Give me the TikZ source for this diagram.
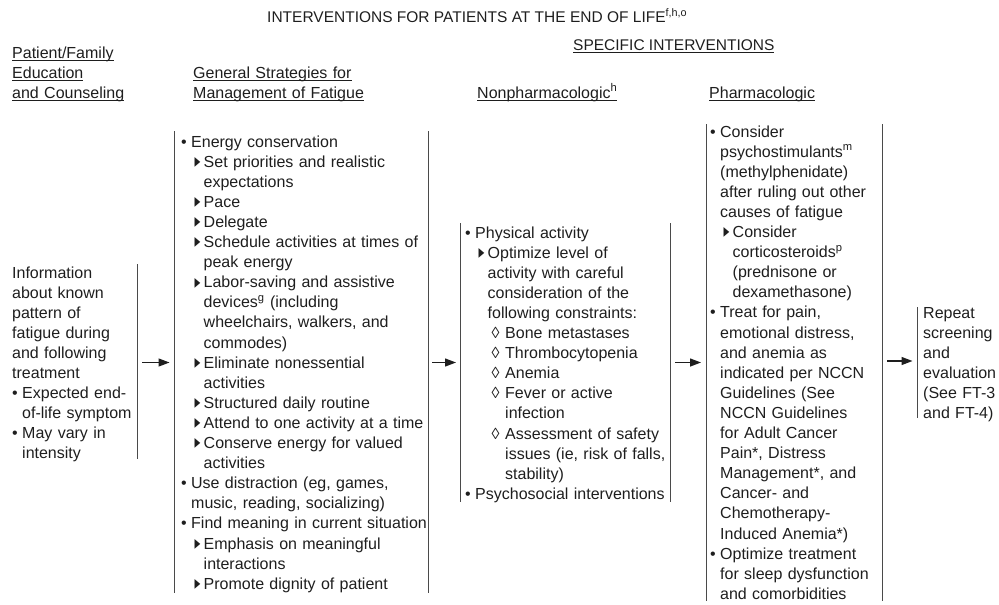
\documentclass[tikz,border=0pt]{standalone}
\usepackage{fontspec}
\usepackage{graphicx}
\setmainfont{Liberation Sans}
\newfontfamily\xdejavu{DejaVu Sans}
\usetikzlibrary{arrows.meta}
\definecolor{txt}{HTML}{1E1E1E}
\definecolor{rulecol}{HTML}{4A4A4A}
\newcommand\xbul{\leavevmode\makebox[10pt][l]{•}}
\newcommand\xbin{\leavevmode\hspace*{10pt}}
\newcommand\xtrimark{\raisebox{-0.3pt}{\scalebox{0.8}[1.35]{\xdejavu\fontsize{14.5}{14}\selectfont ▸}}}
\newcommand\xtri{\leavevmode\hspace*{13.5pt}\makebox[9pt][l]{\xtrimark}}
\newcommand\xtin{\leavevmode\hspace*{22.5pt}}
\newcommand\xdia{\leavevmode\hspace*{26.5pt}\makebox[13.5pt][l]{◊}}
\newcommand\xdin{\leavevmode\hspace*{40pt}}
\newcommand\xul[1]{\leavevmode\setbox0\hbox{#1}\rlap{\rule[-2.4pt]{\wd0}{0.9pt}}\box0}
\tikzset{
  body/.style={anchor=base west, inner sep=0pt, text width=#1, align=left,
    font=\fontsize{16}{20.1}\selectfont, text=txt},
  body/.default=260pt,
  hdr/.style={anchor=base west, inner sep=0pt, text width=240pt, align=left,
    font=\fontsize{16}{20}\selectfont, text=txt},
  ttl/.style={anchor=base west, inner sep=0pt, font=\fontsize{15.5}{18}\selectfont, text=txt},
  brk/.style={draw=rulecol, line width=0.9pt},
  arr/.style={-{Triangle[length=11pt,width=8pt]}, line width=1.3pt, draw=txt},
}
\begin{document}
\begin{tikzpicture}[x=1pt,y=-1pt]
\useasboundingbox (0,0) rectangle (999,605);
% title and headers
\node[ttl] (title) at (267,22) {INTERVENTIONS FOR PATIENTS AT THE END OF LIFE\textsuperscript{f,h,o}};
\node[ttl] (hdrSI) at (573,50) {\xul{SPECIFIC INTERVENTIONS}};
\node[hdr] (hdrPF) at (12,58) {\xul{Patient/Family}\\\xul{Education}\\\xul{and Counseling}};
\node[hdr] (hdrGS) at (193,78) {\xul{General Strategies for}\\\xul{Management of Fatigue}};
\node[hdr] (hdrNP) at (477,98) {\xul{Nonpharmacologic\textsuperscript{h}}};
\node[hdr] (hdrPH) at (709,98) {\xul{Pharmacologic}};
% column 1
\node[body=130pt] (edu) at (12,278) {Information\\
about known\\
pattern of\\
fatigue during\\
and following\\
treatment\\
\xbul Expected end-\\
\xbin of-life symptom\\
\xbul May vary in\\
\xbin intensity};
% column 2
\node[body] (gen) at (181,147) {\xbul Energy conservation\\
\xtri Set priorities and realistic\\
\xtin expectations\\
\xtri Pace\\
\xtri Delegate\\
\xtri Schedule activities at times of\\
\xtin peak energy\\
\xtri Labor-saving and assistive\\
\xtin devices\textsuperscript{g} (including\\
\xtin wheelchairs, walkers, and\\
\xtin commodes)\\
\xtri Eliminate nonessential\\
\xtin activities\\
\xtri Structured daily routine\\
\xtri Attend to one activity at a time\\
\xtri Conserve energy for valued\\
\xtin activities\\
\xbul Use distraction (eg, games,\\
\xbin music, reading, socializing)\\
\xbul Find meaning in current situation\\
\xtri Emphasis on meaningful\\
\xtin interactions\\
\xtri Promote dignity of patient};
% column 3
\node[body] (nonph) at (465,238) {\xbul Physical activity\\
\xtri Optimize level of\\
\xtin activity with careful\\
\xtin consideration of the\\
\xtin following constraints:\\
\xdia Bone metastases\\
\xdia Thrombocytopenia\\
\xdia Anemia\\
\xdia Fever or active\\
\xdin infection\\
\xdia Assessment of safety\\
\xdin issues (ie, risk of falls,\\
\xdin stability)\\
\xbul Psychosocial interventions};
% column 4
\node[body=200pt] (pharm) at (710,137) {\xbul Consider\\
\xbin psychostimulants\textsuperscript{m}\\
\xbin (methylphenidate)\\
\xbin after ruling out other\\
\xbin causes of fatigue\\
\xtri Consider\\
\xtin corticosteroids\textsuperscript{p}\\
\xtin (prednisone or\\
\xtin dexamethasone)\\
\xbul Treat for pain,\\
\xbin emotional distress,\\
\xbin and anemia as\\
\xbin indicated per NCCN\\
\xbin Guidelines (See\\
\xbin NCCN Guidelines\\
\xbin for Adult Cancer\\
\xbin Pain*, Distress\\
\xbin Management*, and\\
\xbin Cancer- and\\
\xbin Chemotherapy-\\
\xbin Induced Anemia*)\\
\xbul Optimize treatment\\
\xbin for sleep dysfunction\\
\xbin and comorbidities};
% column 5
\node[body=75pt] (rep) at (923,318) {Repeat\\
screening\\
and\\
evaluation\\
(See FT-3\\
and FT-4)};
% bracket lines
\coordinate (eduRt) at (137,264); \coordinate (eduRb) at (137,459);
\coordinate (genLt) at (174.5,131); \coordinate (genLb) at (174.5,593);
\coordinate (genRt) at (428,131); \coordinate (genRb) at (428,593);
\coordinate (nonLt) at (460,223); \coordinate (nonLb) at (460,502);
\coordinate (nonRt) at (670,223); \coordinate (nonRb) at (670,502);
\coordinate (phLt) at (706,124); \coordinate (phLb) at (706,601);
\coordinate (phRt) at (882,124); \coordinate (phRb) at (882,601);
\coordinate (repLt) at (917,307); \coordinate (repLb) at (917,418);
\draw[brk] (eduRt) -- (eduRb);
\draw[brk] (genLt) -- (genLb);
\draw[brk] (genRt) -- (genRb);
\draw[brk] (nonLt) -- (nonLb);
\draw[brk] (nonRt) -- (nonRb);
\draw[brk] (phLt) -- (phLb);
\draw[brk] (phRt) -- (phRb);
\draw[brk] (repLt) -- (repLb);
% arrows
\coordinate (a1s) at (142,362.5); \coordinate (a1e) at (169.5,362.5);
\coordinate (a2s) at (432,362.5); \coordinate (a2e) at (456,362.5);
\coordinate (a3s) at (675,362.5); \coordinate (a3e) at (701,362.5);
\coordinate (a4s) at (887,361); \coordinate (a4e) at (912.5,361);
\draw[arr] (a1s) -- (a1e);
\draw[arr] (a2s) -- (a2e);
\draw[arr] (a3s) -- (a3e);
\draw[arr] (a4s) -- (a4e);
\end{tikzpicture}
\end{document}
